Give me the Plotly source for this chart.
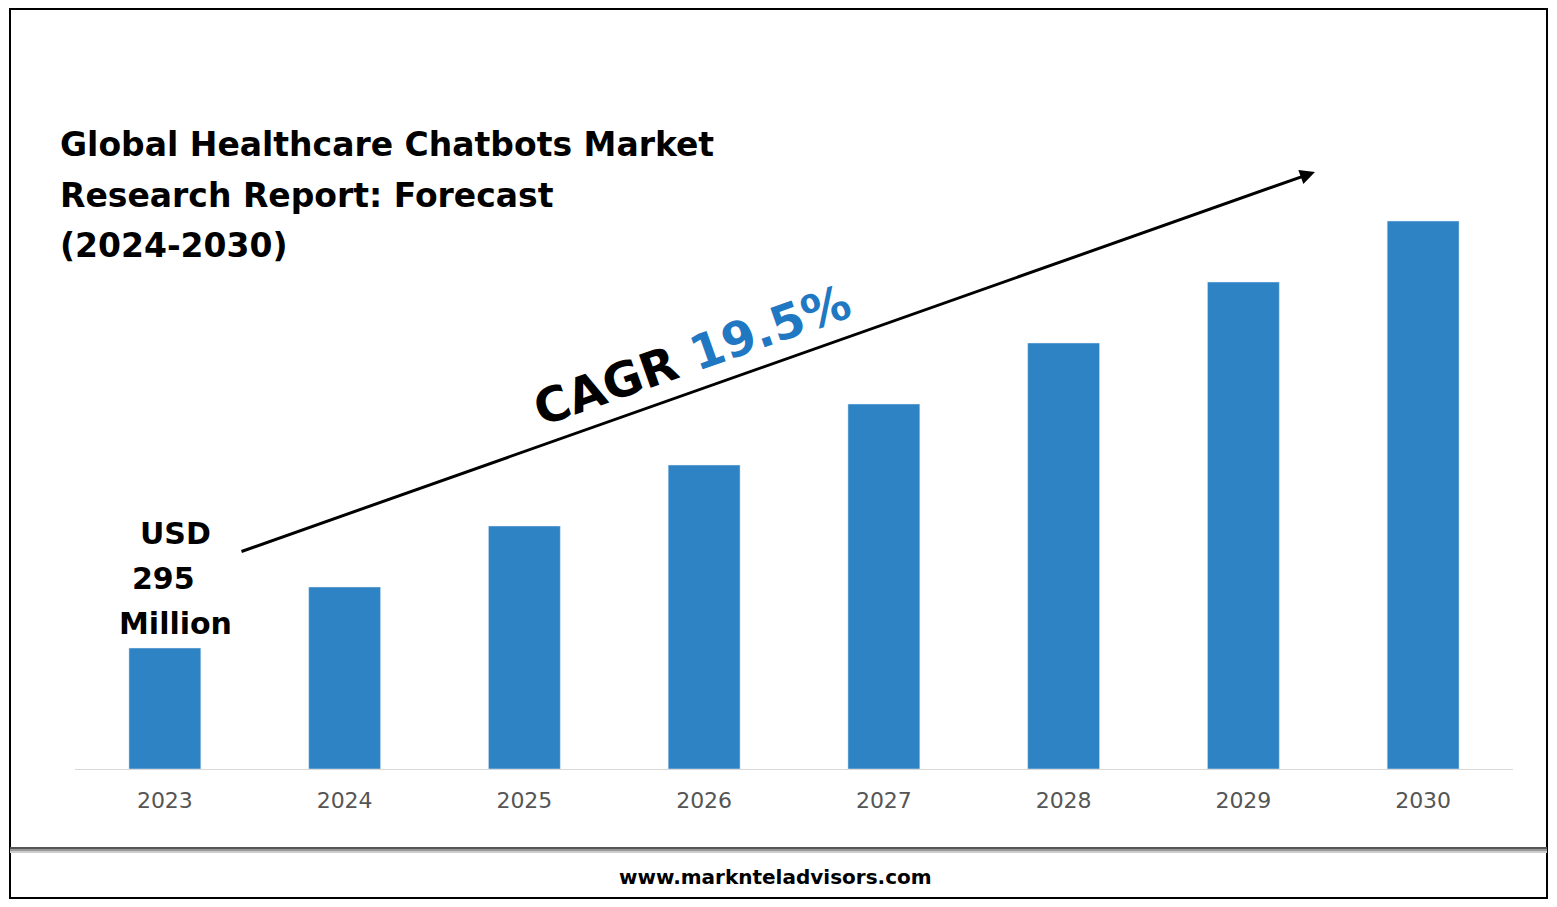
import plotly.graph_objects as go

years = ["2023", "2024", "2025", "2026", "2027", "2028", "2029", "2030"]
# relative market size
values = [121, 182, 243, 304, 365, 426, 487, 548]

W, H = 1557, 907
OFF = 8  # page body margin
L, R, T, B = 75, 44, 100, 138
pw, ph = W - L - R, H - T - B


def px(x, y):
    return (x - L) / pw, (H - B - y) / ph


fig = go.Figure(go.Bar(x=years, y=values, marker_color="#2e83c4", width=0.4))

shapes = []
x0, y0 = px(10, 9)
x1, y1 = px(1547, 898)
shapes.append(dict(type="rect", xref="paper", yref="paper", x0=x0, y0=y0, x1=x1, y1=y1,
                   line=dict(color="black", width=2)))
for i, c in enumerate(["#555", "#999", "#ccc"]):
    a, b = px(10, 848 + i * 2)
    c2, _ = px(1547, 0)
    shapes.append(dict(type="line", xref="paper", yref="paper", x0=a, y0=b, x1=c2, y1=b,
                       line=dict(color=c, width=2)))

ann = []
ax1, ay1 = px(1315, 172)
ann.append(dict(xref="paper", yref="paper", x=ax1, y=ay1, axref="pixel", ayref="pixel",
                ax=240 - 1315, ay=552 - 172, showarrow=True, arrowhead=2, arrowsize=1,
                arrowwidth=3, arrowcolor="black", text=""))
tx, ty = px(692, 355)
ann.append(dict(xref="paper", yref="paper", x=tx, y=ty, xanchor="center", yanchor="middle",
                showarrow=False, textangle=-19.5,
                text="<b>CAGR <span style='color:#1f78c1'>19.5%</span></b>",
                font=dict(size=48, color="black", family="DejaVu Sans")))
title = ["Global Healthcare Chatbots Market", "Research Report: Forecast", "(2024-2030)"]
for i, line in enumerate(title):
    tx, ty = px(58, 145 + i * 50)
    ann.append(dict(xref="paper", yref="paper", x=tx, y=ty, xanchor="left", yanchor="middle",
                    showarrow=False, text="<b>" + line + "</b>",
                    font=dict(size=33, color="black", family="DejaVu Sans")))
for i, line in enumerate(["USD", "295", "Million"]):
    tx, ty = px([175, 163, 175][i], 533 + i * 45)
    ann.append(dict(xref="paper", yref="paper", x=tx, y=ty, xanchor="center", yanchor="middle",
                    showarrow=False, text="<b>" + line + "</b>",
                    font=dict(size=30, color="black", family="DejaVu Sans")))
tx, ty = px(775, 877)
ann.append(dict(xref="paper", yref="paper", x=tx, y=ty, xanchor="center", yanchor="middle",
                showarrow=False, text="<b>www.marknteladvisors.com</b>",
                font=dict(size=20, color="black", family="DejaVu Sans")))

fig.update_layout(
    width=W - 2 * OFF, height=H - 2 * OFF,
    margin=dict(l=L - OFF, r=R - OFF, t=T - OFF, b=B - OFF),
    plot_bgcolor="white", paper_bgcolor="white", showlegend=False,
    shapes=shapes, annotations=ann,
    xaxis=dict(showline=True, linecolor="#d9d9d9", linewidth=1, ticks="",
               ticklabelstandoff=12,
               tickfont=dict(size=22, color="#555", family="DejaVu Sans")),
    yaxis=dict(visible=False, range=[0, ph]),
)
fig.write_html("out.html")
